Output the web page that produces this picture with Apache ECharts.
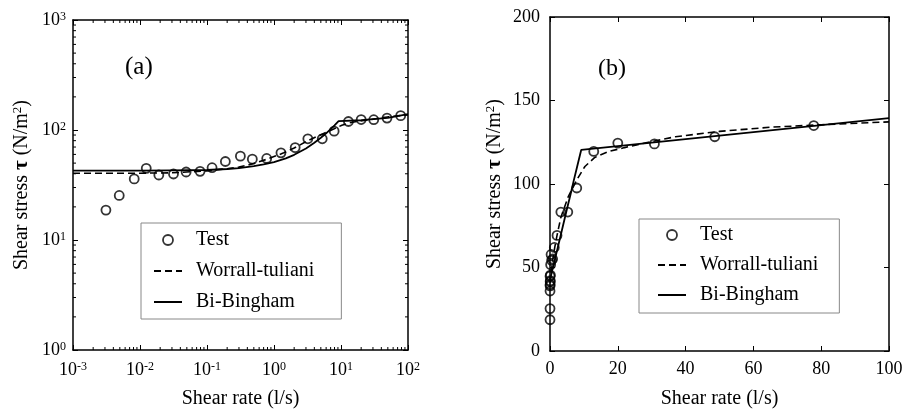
<!DOCTYPE html>
<html>
<head>
<meta charset="utf-8">
<script src="https://cdn.jsdelivr.net/npm/echarts@6/dist/echarts.min.js"></script>
<style>
  html, body { margin: 0; padding: 0; background: #fff; }
  #chart { width: 907px; height: 414px; }
</style>
</head>
<body>
<div id="chart"></div>
<script>
// Measured flow curve: shear rate (1/s) and shear stress (N/m^2)
const shearRate   = [0.0031, 0.0049, 0.0082, 0.0124, 0.0191, 0.0316, 0.0488, 0.0788, 0.119, 0.188,
                     0.315, 0.475, 0.778, 1.27, 2.07, 3.2, 5.25, 7.9, 12.9, 20.0, 30.8, 48.6, 77.8];
const shearStress = [18.7, 25.4, 35.9, 44.8, 39.0, 39.8, 41.5, 42.1, 45.4, 51.7,
                     57.8, 54.3, 55.1, 62.0, 69.2, 83.2, 83.2, 97.6, 119.5, 124.5, 124.0, 128.3, 135.0];

// Worrall-Tuliani model curve
const wtRate   = [0.001, 0.01, 0.03, 0.1, 0.2, 0.3, 0.5, 0.8, 1.4, 2, 3.2, 5.4, 7.9, 10.3,
                  13.2, 17.2, 22, 28, 37, 50, 65, 80, 100];
const wtStress = [40.4, 40.5, 40.8, 42.5, 44.5, 46, 49.5, 54.5, 62, 68.5, 80, 92.5, 102.5, 110.5,
                  115.9, 119.4, 121.8, 124.5, 128.3, 131.5, 134, 135.5, 137.2];

// Bi-Bingham model curve
const bbRate   = [0.001, 0.01, 0.03, 0.1, 0.2, 0.3, 0.5, 0.7, 1, 1.5, 2, 3, 4, 5, 6, 7, 8, 9.2,
                  20, 50, 100];
const bbStress = [42.7, 42.8, 43, 43.3, 44.2, 45, 47, 48.6, 51, 55.3, 59.5, 68, 76.5, 85, 93.3, 102, 110.3, 120.4,
                  122.7, 129, 139.5];

// Axis ranges and tick steps
const rateLogRange   = [0.001, 100];
const stressLogRange = [1, 1000];
const rateLinRange   = [0, 100];
const stressLinRange = [0, 200];
const rateLinStep = 20;
const stressLinStep = 50;

const seriesNames = ['Test', 'Worrall-tuliani', 'Bi-Bingham'];
const panelTags = ['(a)', '(b)'];

const FONT = 'Liberation Serif';
const pairs = (xs, ys) => xs.map((x, i) => [x, ys[i]]);

// minor tick positions (2..9 within each decade) for the log axes
function decadeMinors(lo, hi) {
  const out = [];
  for (let e = Math.round(Math.log10(lo)); e < Math.round(Math.log10(hi)); e++) {
    for (let m = 2; m <= 9; m++) out.push(m * Math.pow(10, e));
  }
  return out;
}
const minorRateTicks = decadeMinors(rateLogRange[0], rateLogRange[1]);
const minorStressTicks = decadeMinors(stressLogRange[0], stressLogRange[1]);

const powRich = {
  b: { fontFamily: FONT, fontSize: 18, color: '#000', lineHeight: 18 },
  s: { fontFamily: FONT, fontSize: 12, color: '#000', verticalAlign: 'top', lineHeight: 12 }
};
const powLabel = v => '{b|10}{s|' + Math.round(Math.log10(v)) + '}';

const lineAxis = { show: true, onZero: false, lineStyle: { color: '#000', width: 1.5 } };
const tickIn = { show: true, inside: true, length: 5, lineStyle: { color: '#000', width: 1 } };

const yName = '{a|Shear stress }{t|τ}{a| (N/m}{s|2}{a|)}';
const yNameStyle = {
  rich: {
    a: { fontFamily: FONT, fontSize: 20, color: '#000', lineHeight: 22 },
    t: { fontFamily: FONT, fontSize: 21, fontWeight: 'bold', color: '#000', lineHeight: 22 },
    s: { fontFamily: FONT, fontSize: 13, color: '#000', verticalAlign: 'top', lineHeight: 13 }
  }
};
const xNameStyle = { fontFamily: FONT, fontSize: 20, color: '#000' };

function minorTickSeries(axisIdx, values, dir) {
  return {
    type: 'custom',
    xAxisIndex: axisIdx, yAxisIndex: axisIdx,
    silent: true, clip: false, z: 1,
    data: values.map(v => dir === 'x' ? [v, stressLogRange[0]] : [rateLogRange[0], v]),
    renderItem(params, api) {
      const cs = params.coordSys;
      const style = { stroke: '#000', lineWidth: 1 };
      const len = 3;
      if (dir === 'x') {
        const x = api.coord([api.value(0), api.value(1)])[0];
        return { type: 'group', children: [
          { type: 'line', shape: { x1: x, y1: cs.y + cs.height, x2: x, y2: cs.y + cs.height - len }, style },
          { type: 'line', shape: { x1: x, y1: cs.y, x2: x, y2: cs.y + len }, style }
        ]};
      }
      const y = api.coord([api.value(0), api.value(1)])[1];
      return { type: 'group', children: [
        { type: 'line', shape: { x1: cs.x, y1: y, x2: cs.x + len, y2: y }, style },
        { type: 'line', shape: { x1: cs.x + cs.width, y1: y, x2: cs.x + cs.width - len, y2: y }, style }
      ]};
    }
  };
}

// legend entries: open circle for the test points, bare lines for the two models
const hiddenSymbol = { color: 'rgba(0,0,0,0)', borderColor: 'rgba(0,0,0,0)', borderWidth: 0 };
const legendItems = [
  { name: seriesNames[0], icon: 'circle',
    itemStyle: { color: 'rgba(0,0,0,0)', borderColor: '#000', borderWidth: 1.8 } },
  { name: seriesNames[1], itemStyle: hiddenSymbol },
  { name: seriesNames[2], itemStyle: hiddenSymbol }
];
const legendBase = {
  orient: 'vertical', selectedMode: false,
  itemWidth: 28, itemHeight: 10,
  borderColor: '#888', borderWidth: 1, backgroundColor: '#fff',
  textStyle: { fontFamily: FONT, fontSize: 20, color: '#000', lineHeight: 20, padding: [0, 0, 0, 9] },
  data: legendItems
};

function panelSeries(idx) {
  return [
    { name: seriesNames[1], type: 'line', xAxisIndex: idx, yAxisIndex: idx,
      data: pairs(wtRate, wtStress), symbol: 'none', z: 3,
      lineStyle: { color: '#000', width: 1.6, type: [7, 4] }, itemStyle: { color: '#000' } },
    { name: seriesNames[2], type: 'line', xAxisIndex: idx, yAxisIndex: idx,
      data: pairs(bbRate, bbStress), symbol: 'none', z: 3,
      lineStyle: { color: '#000', width: 1.8, type: 'solid' }, itemStyle: { color: '#000' } },
    { name: seriesNames[0], type: 'scatter', xAxisIndex: idx, yAxisIndex: idx,
      data: pairs(shearRate, shearStress), symbol: 'circle', symbolSize: 9, z: 4,
      itemStyle: { color: 'rgba(0,0,0,0)', borderColor: '#000', borderWidth: 1.8 } }
  ];
}

const chart = echarts.init(document.getElementById('chart'), null, { renderer: 'canvas' });
chart.setOption({
  backgroundColor: '#fff',
  animation: false,
  grid: [
    { left: 73, top: 20, width: 335, height: 334 },
    { left: 550, top: 17, width: 339, height: 339 }
  ],
  xAxis: [
    { gridIndex: 0, type: 'log', logBase: 10, min: rateLogRange[0], max: rateLogRange[1],
      position: 'bottom', axisLine: lineAxis, axisTick: tickIn, splitLine: { show: false },
      axisLabel: { margin: 11, formatter: powLabel, rich: powRich, showMinLabel: true, showMaxLabel: true },
      name: 'Shear rate (l/s)', nameLocation: 'middle', nameGap: 39, nameTextStyle: xNameStyle },
    { gridIndex: 0, type: 'log', logBase: 10, min: rateLogRange[0], max: rateLogRange[1],
      position: 'top', axisLine: lineAxis, axisTick: tickIn, splitLine: { show: false },
      axisLabel: { show: false } },
    { gridIndex: 1, type: 'value', min: rateLinRange[0], max: rateLinRange[1], interval: rateLinStep,
      position: 'bottom', axisLine: lineAxis, axisTick: tickIn, splitLine: { show: false },
      axisLabel: { margin: 9, fontFamily: FONT, fontSize: 18, color: '#000' },
      name: 'Shear rate (l/s)', nameLocation: 'middle', nameGap: 38, nameTextStyle: xNameStyle },
    { gridIndex: 1, type: 'value', min: rateLinRange[0], max: rateLinRange[1], interval: rateLinStep,
      position: 'top', axisLine: lineAxis, axisTick: tickIn, splitLine: { show: false },
      axisLabel: { show: false } }
  ],
  yAxis: [
    { gridIndex: 0, type: 'log', logBase: 10, min: stressLogRange[0], max: stressLogRange[1],
      position: 'left', axisLine: lineAxis, axisTick: tickIn, splitLine: { show: false },
      axisLabel: { margin: 7, formatter: powLabel, rich: powRich, showMinLabel: true, showMaxLabel: true },
      name: yName, nameLocation: 'middle', nameGap: 40, nameRotate: 90, nameTextStyle: yNameStyle },
    { gridIndex: 0, type: 'log', logBase: 10, min: stressLogRange[0], max: stressLogRange[1],
      position: 'right', axisLine: lineAxis, axisTick: tickIn, splitLine: { show: false },
      axisLabel: { show: false } },
    { gridIndex: 1, type: 'value', min: stressLinRange[0], max: stressLinRange[1], interval: stressLinStep,
      position: 'left', axisLine: lineAxis, axisTick: tickIn, splitLine: { show: false },
      axisLabel: { margin: 10, fontFamily: FONT, fontSize: 18, color: '#000' },
      name: yName, nameLocation: 'middle', nameGap: 44, nameRotate: 90, nameTextStyle: yNameStyle },
    { gridIndex: 1, type: 'value', min: stressLinRange[0], max: stressLinRange[1], interval: stressLinStep,
      position: 'right', axisLine: lineAxis, axisTick: tickIn, splitLine: { show: false },
      axisLabel: { show: false } }
  ],
  legend: [
    Object.assign({}, legendBase, { left: 141, top: 223, padding: [7, 27, 7, 12], itemGap: 11 }),
    Object.assign({}, legendBase, { left: 639, top: 219, padding: [6, 21, 8, 18], itemGap: 10 })
  ],
  graphic: [
    { type: 'text', left: 125, top: 55, style: { text: panelTags[0], font: '25px "Liberation Serif"', fill: '#000' } },
    { type: 'text', left: 598, top: 57, style: { text: panelTags[1], font: '24px "Liberation Serif"', fill: '#000' } }
  ],
  series: [
    minorTickSeries(0, minorRateTicks, 'x'),
    minorTickSeries(0, minorStressTicks, 'y'),
    ...panelSeries(0),
    ...panelSeries(2)
  ]
});
</script>
</body>
</html>
